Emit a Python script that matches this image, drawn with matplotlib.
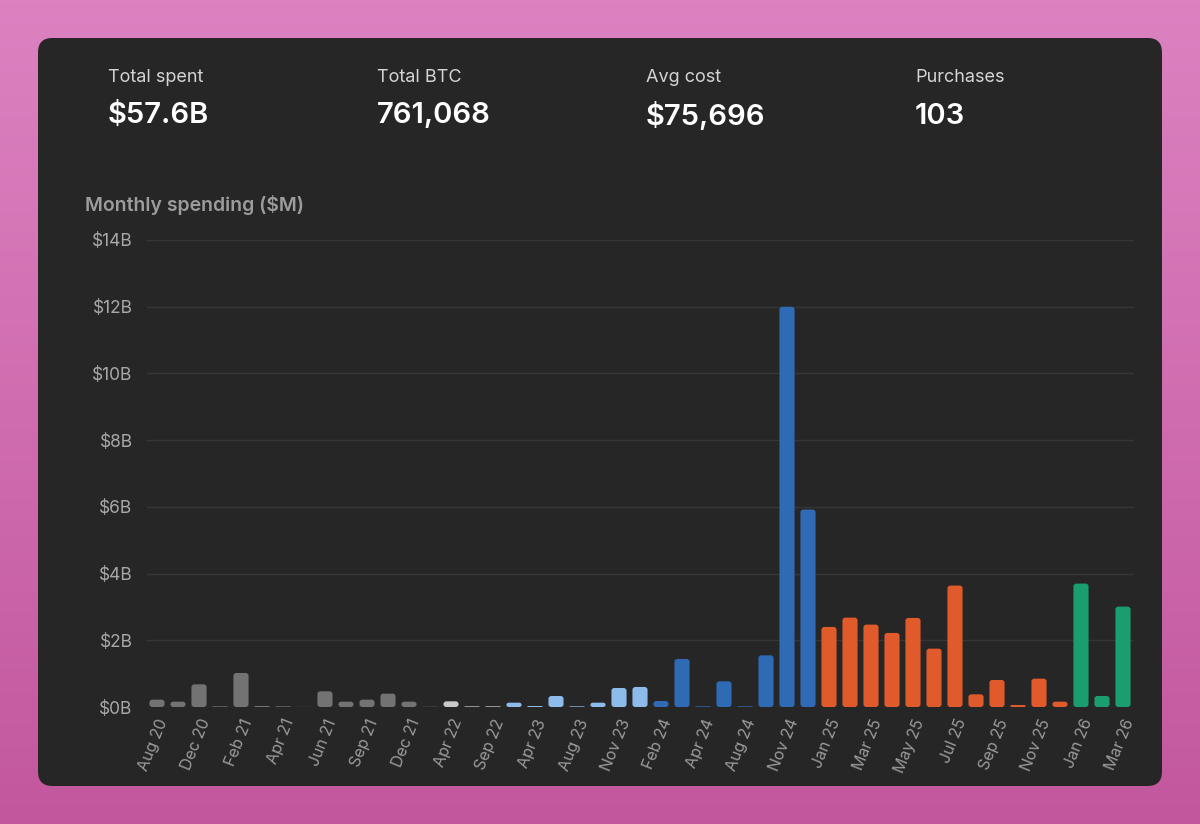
import numpy as np
import matplotlib.pyplot as plt
from matplotlib.patches import FancyBboxPatch

# monthly purchases, $B
months = ["Aug 20", "Sep 20", "Dec 20", "Jan 21", "Feb 21", "Mar 21", "Apr 21", "May 21",
          "Jun 21", "Aug 21", "Sep 21", "Nov 21", "Dec 21", "Feb 22", "Apr 22", "Jun 22",
          "Sep 22", "Mar 23", "Apr 23", "Jun 23", "Aug 23", "Sep 23", "Nov 23", "Dec 23",
          "Feb 24", "Mar 24", "Apr 24", "Jun 24", "Aug 24", "Sep 24", "Nov 24", "Dec 24",
          "Jan 25", "Feb 25", "Mar 25", "Apr 25", "May 25", "Jun 25", "Jul 25", "Aug 25",
          "Sep 25", "Oct 25", "Nov 25", "Dec 25", "Jan 26", "Feb 26", "Mar 26"]
spent = [0.22, 0.16, 0.68, 0.02, 1.02, 0.03, 0.02, 0.002,
         0.47, 0.16, 0.22, 0.40, 0.16, 0.003, 0.17, 0.02,
         0.02, 0.13, 0.03, 0.33, 0.02, 0.13, 0.57, 0.60,
         0.18, 1.44, 0.02, 0.77, 0.02, 1.55, 12.0, 5.92,
         2.40, 2.68, 2.47, 2.22, 2.67, 1.75, 3.64, 0.38,
         0.81, 0.06, 0.85, 0.16, 3.70, 0.33, 3.01]
year_colors = {"20": "#737373", "21": "#737373", "22": "#c9c9c9", "23": "#8dbbea",
               "24": "#2f6ab5", "25": "#e05a2b", "26": "#1a9e70"}
shown_labels = months[::2]

stat_names = ["Total spent", "Total BTC", "Avg cost", "Purchases"]
stat_values = ["$57.6B", "761,068", "$75,696", "103"]

plt.rcParams['font.family'] = ['Inter', 'DejaVu Sans']

fig = plt.figure(figsize=(12, 8.24), dpi=100)

# pink gradient background
bg = fig.add_axes([0, 0, 1, 1])
grad = np.linspace(0, 1, 256).reshape(-1, 1)
top = np.array([0xdc, 0x82, 0xc1]) / 255
bot = np.array([0xc3, 0x57, 0x9e]) / 255
img = top + (bot - top) * grad[..., None]
bg.imshow(img, aspect='auto', extent=[0, 1, 0, 1])
bg.set_xlim(0, 1)
bg.set_ylim(0, 1)
bg.axis('off')

# dark card
card = FancyBboxPatch((38 / 1200, 1 - 786 / 824), 1124 / 1200, 748 / 824,
                      boxstyle="round,pad=0,rounding_size=0.012",
                      transform=fig.transFigure, facecolor="#262626",
                      edgecolor="none", mutation_aspect=1200 / 824)
bg.add_patch(card)

# header stats
for i in range(len(stat_names)):
    xs = (108 + i * 269) / 1200
    fig.text(xs, 1 - 78 / 824, stat_names[i], color="#d4d4d4", fontsize=13,
             va='center', ha='left')
    fig.text(xs, 1 - 116 / 824, stat_values[i], color="white", fontsize=21,
             fontweight='semibold', va='center', ha='left')

fig.text(85 / 1200, 1 - 205 / 824, "Monthly spending ($M)", color="#9c9c9c",
         fontsize=14, fontweight='semibold', va='center', ha='left')

ax = fig.add_axes([146.5 / 1200, 117 / 824, 987 / 1200, 467 / 824])
ax.set_facecolor("none")
x = np.arange(len(months))
colors = [year_colors[m[-2:]] for m in months]
bars = ax.bar(x, spent, width=0.72, color=colors, zorder=3)

# round the bar corners
for b in bars:
    h = b.get_height()
    r = min(0.14, h / 0.6 / 2)
    fb = FancyBboxPatch((b.get_x(), b.get_y()), b.get_width(), h,
                        boxstyle="round,pad=0,rounding_size=%f" % r,
                        mutation_aspect=0.6, facecolor=b.get_facecolor(),
                        edgecolor="none", zorder=3)
    ax.add_patch(fb)
    b.set_visible(False)

ax.set_xlim(-0.5, len(months) - 0.5)
ax.set_ylim(0, 14)
ax.set_yticks(np.arange(0, 15, 2))
ax.set_yticklabels(["$%dB" % v for v in np.arange(0, 15, 2)])
ax.set_xticks(x[::2])
ax.set_xticklabels(shown_labels, rotation=68, ha='right', rotation_mode='anchor')
ax.tick_params(axis='y', length=0, pad=10, labelcolor="#a8a8a8", labelsize=12.5)
ax.tick_params(axis='x', length=0, pad=7, labelcolor="#9a9a9a", labelsize=11.5)
ax.grid(axis='y', color="#363636", linewidth=1, zorder=0)
for s in ax.spines.values():
    s.set_visible(False)

fig.savefig("out.png", dpi=100)
